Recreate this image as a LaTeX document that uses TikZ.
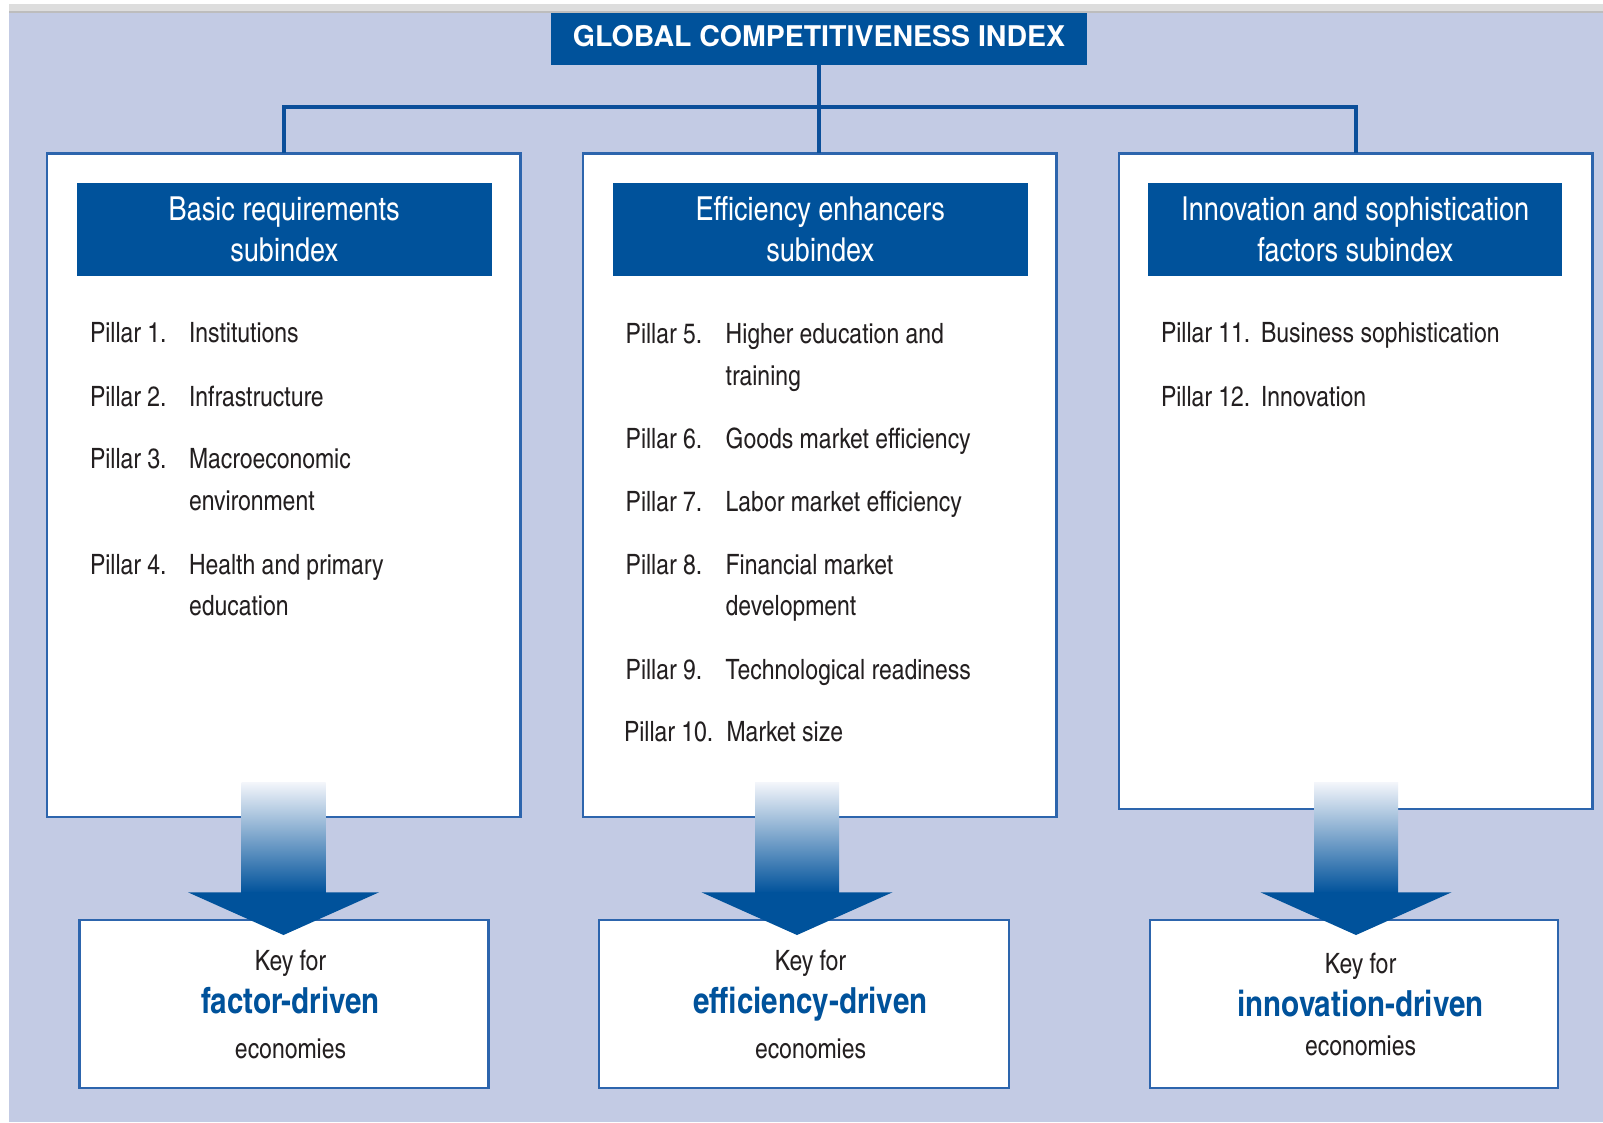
\documentclass[tikz,border=0pt]{standalone}
\usepackage{fontspec}
\setmainfont{texgyreheroscn}[Extension=.otf, UprightFont=*-regular, BoldFont=*-bold, ItalicFont=*-italic, BoldItalicFont=*-bolditalic]
\newfontfamily\gcititle{TeX Gyre Heros}
\definecolor{bgl}{HTML}{C3CBE4}
\definecolor{dkblue}{HTML}{00529B}
\definecolor{midarrow}{HTML}{7F93C9}
\definecolor{toparrow}{HTML}{F4F6FB}
\definecolor{brd}{HTML}{2D65AD}
\definecolor{connc}{HTML}{0B4F9A}
\definecolor{txt}{HTML}{231F20}
\definecolor{stripg}{HTML}{DDDDDD}
\definecolor{stripl}{HTML}{BDBDBD}
\tikzset{
  panel/.style={draw=brd, line width=2.5pt, fill=white, anchor=north west, inner sep=0pt},
  hdr/.style={fill=dkblue, anchor=north west, inner sep=0pt},
  hdrtext/.style={anchor=base, text=white, font=\fontsize{33}{40}\selectfont},
  pill/.style={anchor=base west, text=txt, font=\fontsize{28}{34}\selectfont},
  keysmall/.style={anchor=base, text=txt, font=\fontsize{28}{34}\selectfont},
  keybig/.style={anchor=base, text=dkblue, font=\bfseries\fontsize{36}{42}\selectfont},
  conn/.style={draw=connc, line width=3.5pt},
  keybox/.style={draw=brd, line width=2.5pt, fill=white, anchor=north west, inner sep=0pt, minimum height=168pt}
}
\newcommand{\gcarrow}[1]{%
  \shade[top color=toparrow, middle color=midarrow, bottom color=dkblue] (#1-42,782) rectangle (#1+42,893);
  \fill[dkblue] (#1-95.5,892.3) -- (#1+95.5,892.3) -- (#1,935) -- cycle;
}
\begin{document}
\begin{tikzpicture}[x=1pt,y=-1pt, every node/.style={inner sep=0pt, outer sep=0pt}]
\useasboundingbox (0,0) rectangle (1603,1122);
\fill[white] (0,0) rectangle (1603,1122);
\fill[stripg] (9,4) rectangle (1603,11.5);
\fill[stripl] (9,11) rectangle (1603,12.7);
\fill[bgl] (9,12.7) rectangle (1603,1122);

% title
\node[hdr, minimum width=536pt, minimum height=52.3pt] (title) at (551,12.7) {};
\node[anchor=base, text=white, font=\gcititle\bfseries\fontsize{28.5}{34}\selectfont] (titletext) at (819,46) {GLOBAL COMPETITIVENESS INDEX};

% panels
\node[panel, minimum width=473.5pt, minimum height=663.5pt] (b1) at (47,153.3) {};
\node[panel, minimum width=473.5pt, minimum height=663.5pt] (b2) at (583,153.3) {};
\node[panel, minimum width=473.7pt, minimum height=655.7pt] (b3) at (1119,153.3) {};

% connectors
\coordinate (jn) at (819,107);
\draw[conn] (title.south) -- (title.south |- b2.north);
\draw[conn] (b1.north) |- (jn) -| (b3.north);

% headers
\node[hdr, minimum width=415pt, minimum height=92.4pt] (h1) at (76.7,183.3) {};
\node[hdr, minimum width=415pt, minimum height=92.4pt] (h2) at (612.7,183.3) {};
\node[hdr, minimum width=414pt, minimum height=92.4pt] (h3) at (1148.3,183.3) {};
\node[hdrtext] (h1a) at (h1.center |- 0,220) {Basic requirements};
\node[hdrtext] (h1b) at (h1.center |- 0,261) {subindex};
\node[hdrtext] (h2a) at (h2.center |- 0,220) {Efficiency enhancers};
\node[hdrtext] (h2b) at (h2.center |- 0,261) {subindex};
\node[hdrtext] (h3a) at (h3.center |- 0,220) {Innovation and sophistication};
\node[hdrtext] (h3b) at (h3.center |- 0,261) {factors subindex};

% left pillars
\node[pill] (p1) at (90,342.7) {Pillar 1.};
\node[pill] (p1t) at (189,342.7) {Institutions};
\node[pill] (p2) at (90,406) {Pillar 2.};
\node[pill] (p2t) at (189,406) {Infrastructure};
\node[pill] (p3) at (90,468.6) {Pillar 3.};
\node[pill] (p3t) at (189,468.6) {Macroeconomic};
\node[pill] (p3u) at (189,510.7) {environment};
\node[pill] (p4) at (90,574) {Pillar 4.};
\node[pill] (p4t) at (189,574) {Health and primary};
\node[pill] (p4u) at (189,615.5) {education};

% middle pillars
\node[pill] (p5) at (625.7,343) {Pillar 5.};
\node[pill] (p5t) at (725.7,343) {Higher education and};
\node[pill] (p5u) at (725.7,385) {training};
\node[pill] (p6) at (625.7,448.3) {Pillar 6.};
\node[pill] (p6t) at (725.7,448.3) {Goods market efficiency};
\node[pill] (p7) at (625.7,511.7) {Pillar 7.};
\node[pill] (p7t) at (725.7,511.7) {Labor market efficiency};
\node[pill] (p8) at (625.7,574.5) {Pillar 8.};
\node[pill] (p8t) at (725.7,574.5) {Financial market};
\node[pill] (p8u) at (725.7,615.5) {development};
\node[pill] (p9) at (625.7,679.3) {Pillar 9.};
\node[pill] (p9t) at (725.7,679.3) {Technological readiness};
\node[pill] (p10) at (624,741.7) {Pillar 10.};
\node[pill] (p10t) at (726.5,741.7) {Market size};

% right pillars
\node[pill] (p11) at (1161,342.7) {Pillar 11.};
\node[pill] (p11t) at (1261,342.7) {Business sophistication};
\node[pill] (p12) at (1161,406) {Pillar 12.};
\node[pill] (p12t) at (1261,406) {Innovation};

% key boxes
\node[keybox, minimum width=408.6pt] (k1) at (79.7,920) {};
\node[keybox, minimum width=410pt] (k2) at (599,920) {};
\node[keybox, minimum width=408pt] (k3) at (1150,920) {};

\node[keysmall] (k1a) at (290.5,970) {Key for};
\node[keybig] (k1b) at (290.5,1013.3) {factor-driven};
\node[keysmall] (k1c) at (290.5,1058.3) {economies};
\node[keysmall] (k2a) at (810.5,970) {Key for};
\node[keybig] (k2b) at (810.5,1013.3) {efficiency-driven};
\node[keysmall] (k2c) at (810.5,1058.3) {economies};
\node[keysmall] (k3a) at (1360.5,973.3) {Key for};
\node[keybig] (k3b) at (1360.5,1016.7) {innovation-driven};
\node[keysmall] (k3c) at (1360.5,1055) {economies};

% arrows
\gcarrow{283.5}
\gcarrow{797}
\gcarrow{1356}
\end{tikzpicture}
\end{document}
